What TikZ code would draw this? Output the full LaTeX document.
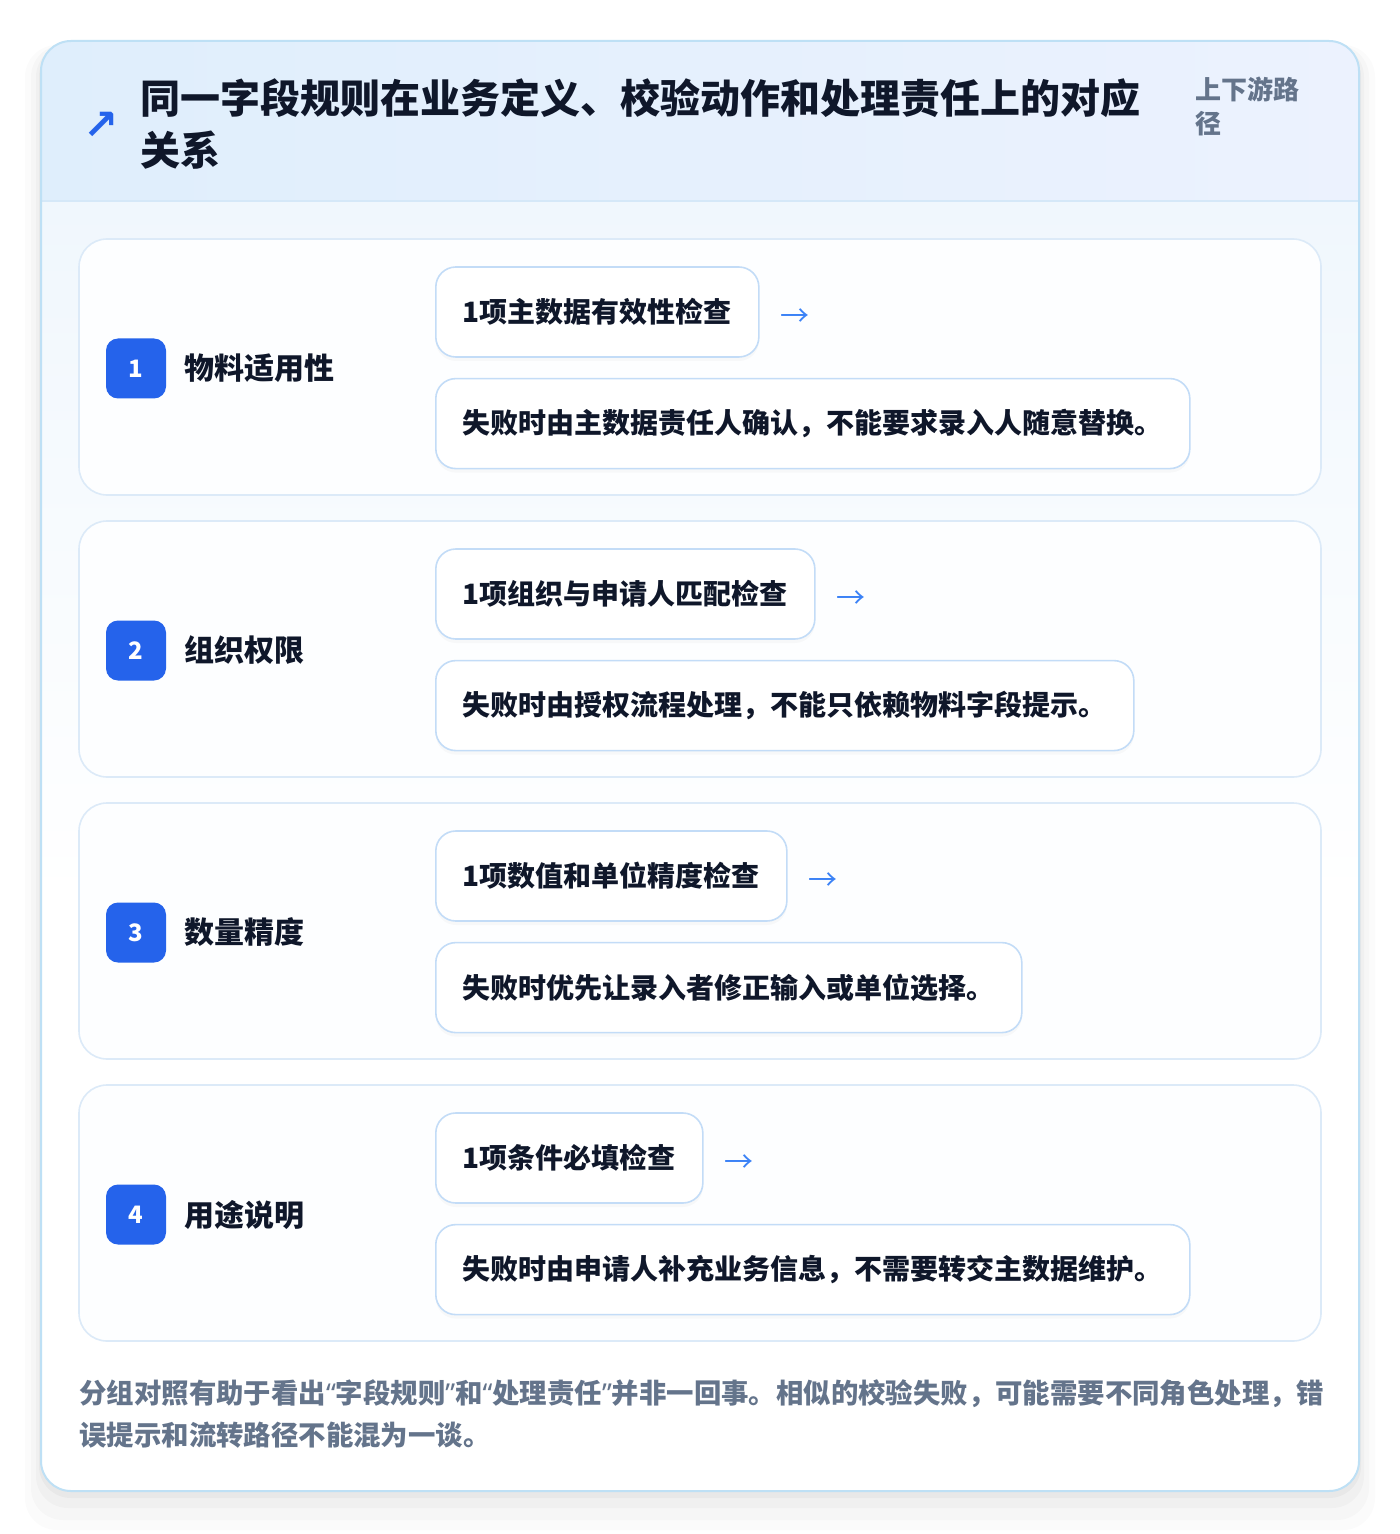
\documentclass[tikz,border=0pt]{standalone}
\usepackage{fontspec}
\setmainfont{Noto Sans CJK SC}
\newfontfamily\symfont{DejaVu Sans}
\newfontfamily\quotefont{Noto Sans}
\usetikzlibrary{positioning}
\usetikzlibrary{shadows}
\definecolor{cardline}{HTML}{BEE0F5}
\definecolor{headleft}{HTML}{DFEEFC}
\definecolor{headright}{HTML}{ECF2FE}
\definecolor{headline}{HTML}{D5E8F8}
\definecolor{bodytop}{HTML}{F0F7FD}
\definecolor{rowline}{HTML}{DCEAF8}
\definecolor{rowfill}{HTML}{FDFEFF}
\definecolor{pillline}{HTML}{C3DCF7}
\definecolor{inkdark}{HTML}{0F172A}
\definecolor{inkgray}{HTML}{64748B}
\definecolor{badgeblue}{HTML}{2563EB}
\definecolor{arrowblue}{HTML}{3B82F6}
\newcommand{\openq}{{\quotefont“}}
\newcommand{\closeq}{{\quotefont”}}
\tikzset{rowcard/.style={rectangle,rounded corners=14pt,draw=rowline,fill=rowfill,
line width=0.8pt,minimum width=621pt,minimum height=128pt}}
\tikzset{badge/.style={rectangle,rounded corners=6pt,fill=badgeblue,text=white,
inner sep=0pt,minimum size=30pt,font=\bfseries\fontsize{12}{14}\selectfont}}
\tikzset{rowlabel/.style={inner sep=0pt,text=inkdark,
font=\bfseries\fontsize{15}{18}\selectfont}}
\tikzset{checkbox/.style={rectangle,rounded corners=10pt,draw=pillline,fill=white,
line width=0.8pt,inner xsep=13.5pt,inner ysep=0pt,minimum height=45pt,text=inkdark,
font=\bfseries\fontsize{14}{17}\selectfont,
drop shadow={shadow xshift=0pt,shadow yshift=-2pt,opacity=0.025,fill=black}}}
\tikzset{stepsign/.style={inner sep=0pt,text=arrowblue,font=\fontsize{14.5}{17}\selectfont}}
\tikzset{softshadow/.style={fill=black,rounded corners=16pt}}

\begin{document}
\begin{tikzpicture}[x=0.5pt,y=-0.5pt]
    \useasboundingbox (0,0) rectangle (1400,1534);
    \fill[white] (0,0) rectangle (1400,1534);

    \fill[softshadow,opacity=0.015] (25,45) rectangle (1375,1530);
    \fill[softshadow,opacity=0.02] (31,45) rectangle (1369,1520);
    \fill[softshadow,opacity=0.025] (36,45) rectangle (1364,1508);
    \fill[softshadow,opacity=0.03] (39,45) rectangle (1361,1498);
    \fill[white,rounded corners=15pt] (41,41) rectangle (1359,1491);
    \begin{scope}
        \clip[rounded corners=15pt] (41,41) rectangle (1359,1491);
        \shade[top color=bodytop,bottom color=white] (41,201) rectangle (1359,900);
        \shade[left color=headleft,right color=headright] (41,41) rectangle (1359,201);
    \end{scope}
    \draw[headline,line width=0.8pt] (41,201) -- (1359,201);
    \draw[cardline,line width=1pt,rounded corners=15pt] (41,41) rectangle (1359,1491);

    \node[text=badgeblue,inner sep=0pt,font=\symfont\bfseries\fontsize{21}{24}\selectfont] (icon) at (101,126) {↗};
    \node[anchor=west,align=left,inner sep=0pt,text=inkdark,
      font=\bfseries\fontsize{20}{26}\selectfont] (title) at (140,124)
      {同一字段规则在业务定义、校验动作和处理责任上的对应\\关系};
    \node[anchor=west,align=left,inner sep=0pt,text=inkgray,
      font=\bfseries\fontsize{13}{17}\selectfont] (scope) at (1195,106) {上下游路\\径};

    \node[rowcard] (rowA) at (700,367) {};
    \node[badge] (badgeA) at (136,368.5) {1};
    \node[rowlabel] (labelA) [right=9pt of badgeA] {物料适用性};
    \node[checkbox,anchor=west] (ruleA) at (435,312) {1项主数据有效性检查};
    \node[stepsign] (signA) [right=10pt of ruleA,yshift=-3pt] {→};
    \node[checkbox] (dutyA) [below=10pt of ruleA.south west,anchor=north west] {失败时由主数据责任人确认，不能要求录入人随意替换。};

    \node[rowcard] (rowB) at (700,649) {};
    \node[badge] (badgeB) at (136,650.5) {2};
    \node[rowlabel] (labelB) [right=9pt of badgeB] {组织权限};
    \node[checkbox,anchor=west] (ruleB) at (435,594) {1项组织与申请人匹配检查};
    \node[stepsign] (signB) [right=10pt of ruleB,yshift=-3pt] {→};
    \node[checkbox] (dutyB) [below=10pt of ruleB.south west,anchor=north west] {失败时由授权流程处理，不能只依赖物料字段提示。};

    \node[rowcard] (rowC) at (700,931) {};
    \node[badge] (badgeC) at (136,932.5) {3};
    \node[rowlabel] (labelC) [right=9pt of badgeC] {数量精度};
    \node[checkbox,anchor=west] (ruleC) at (435,876) {1项数值和单位精度检查};
    \node[stepsign] (signC) [right=10pt of ruleC,yshift=-3pt] {→};
    \node[checkbox] (dutyC) [below=10pt of ruleC.south west,anchor=north west] {失败时优先让录入者修正输入或单位选择。};

    \node[rowcard] (rowD) at (700,1213) {};
    \node[badge] (badgeD) at (136,1214.5) {4};
    \node[rowlabel] (labelD) [right=9pt of badgeD] {用途说明};
    \node[checkbox,anchor=west] (ruleD) at (435,1158) {1项条件必填检查};
    \node[stepsign] (signD) [right=10pt of ruleD,yshift=-3pt] {→};
    \node[checkbox] (dutyD) [below=10pt of ruleD.south west,anchor=north west] {失败时由申请人补充业务信息，不需要转交主数据维护。};

    \node[anchor=west,align=left,inner sep=0pt,text=inkgray,
      font=\bfseries\fontsize{13.7}{21}\selectfont] (note) at (79,1414)
      {分组对照有助于看出\openq 字段规则\closeq 和\openq 处理责任\closeq 并非一回事。相似的校验失败，可能需要不同角色处理，错\\误提示和流转路径不能混为一谈。};
\end{tikzpicture}
\end{document}
